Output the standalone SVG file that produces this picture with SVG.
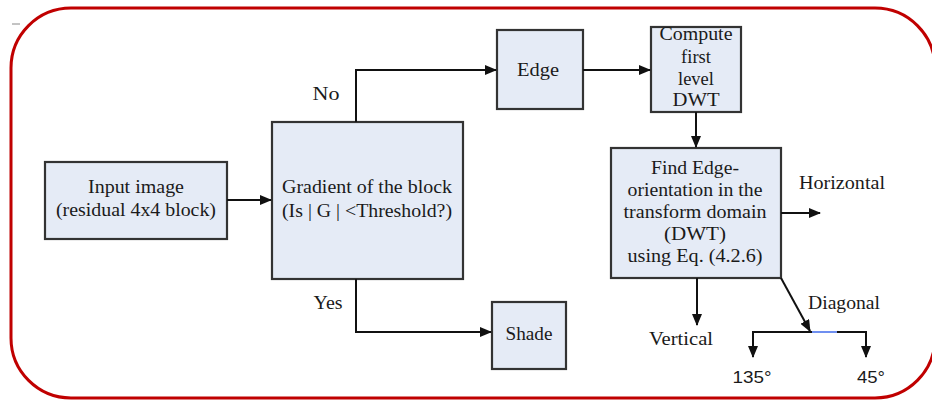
<svg xmlns="http://www.w3.org/2000/svg" width="932" height="400" viewBox="0 0 932 400">
<defs>
<marker id="ah" markerUnits="userSpaceOnUse" markerWidth="12" markerHeight="10" refX="11" refY="5" orient="auto"><path d="M0,0 L12,5 L0,10 z" fill="#111"/></marker>
<style>
.box{fill:#e5ebf6;stroke:#333;stroke-width:2.2}
text{font-size:18.5px;fill:#1a1a1a;text-anchor:middle}
.c{fill:none;stroke:#111;stroke-width:2}
</style>
</defs>
<rect x="11" y="8" width="924" height="390" rx="60" ry="60" fill="#fff" stroke="#c00000" stroke-width="3"/>
<line x1="12" y1="24" x2="20" y2="24" stroke="#888" stroke-width="1"/>
<g font-family="Liberation Serif, Times New Roman, serif">
<g id="input"><rect class="box" x="45" y="162" width="182" height="77"/>
<text x="136" y="193" textLength="96" lengthAdjust="spacingAndGlyphs">Input image</text>
<text x="136" y="216" textLength="160" lengthAdjust="spacingAndGlyphs">(residual 4x4 block)</text></g>
<g id="gradient"><rect class="box" x="272" y="122" width="191" height="157"/>
<text x="367" y="193" textLength="170" lengthAdjust="spacingAndGlyphs">Gradient of the block</text>
<text x="367" y="217" textLength="170" lengthAdjust="spacingAndGlyphs">(Is | G | &lt;Threshold?)</text></g>
<g id="edge"><rect class="box" x="497" y="30" width="86" height="79"/>
<text x="538" y="76" textLength="42" lengthAdjust="spacingAndGlyphs">Edge</text></g>
<g id="dwt"><rect class="box" x="651" y="27" width="90" height="85"/>
<text x="696" y="40" textLength="73" lengthAdjust="spacingAndGlyphs">Compute</text>
<text x="696" y="63">first</text>
<text x="696" y="85">level</text>
<text x="696" y="106" textLength="47" lengthAdjust="spacingAndGlyphs">DWT</text></g>
<g id="shade"><rect class="box" x="492" y="302" width="74" height="67"/>
<text x="529" y="340" textLength="47" lengthAdjust="spacingAndGlyphs">Shade</text></g>
<g id="find"><rect class="box" x="611" y="148" width="170" height="130"/>
<text x="695" y="174" textLength="88" lengthAdjust="spacingAndGlyphs">Find Edge-</text>
<text x="695" y="196" textLength="135" lengthAdjust="spacingAndGlyphs">orientation in the</text>
<text x="695" y="218" textLength="143" lengthAdjust="spacingAndGlyphs">transform domain</text>
<text x="695" y="240" textLength="62" lengthAdjust="spacingAndGlyphs">(DWT)</text>
<text x="695" y="262" textLength="135" lengthAdjust="spacingAndGlyphs">using Eq. (4.2.6)</text></g>
</g>
<g id="connectors">
<path class="c" d="M227,200 H271" marker-end="url(#ah)"/>
<path class="c" d="M356,122 V70 H496" marker-end="url(#ah)"/>
<path class="c" d="M356,279 V332 H491" marker-end="url(#ah)"/>
<path class="c" d="M583,70 H650" marker-end="url(#ah)"/>
<path class="c" d="M696,112 V147" marker-end="url(#ah)"/>
<path class="c" d="M781,213 H820" marker-end="url(#ah)"/>
<path class="c" d="M697,278 V325" marker-end="url(#ah)"/>
<path class="c" d="M781,278 L810,331" marker-end="url(#ah)"/>
<path class="c" d="M812,332 H753 V357" marker-end="url(#ah)"/>
<path class="c" d="M837,332 H866 V357" marker-end="url(#ah)"/>
<line x1="812" y1="332" x2="837" y2="332" stroke="#6f8ff0" stroke-width="2"/>
</g>
<g id="labels">
<g font-family="Liberation Serif, Times New Roman, serif">
<text x="326" y="100" textLength="27" lengthAdjust="spacingAndGlyphs">No</text>
<text x="328" y="309" textLength="29" lengthAdjust="spacingAndGlyphs">Yes</text>
<text x="842" y="189" textLength="86" lengthAdjust="spacingAndGlyphs">Horizontal</text>
<text x="681" y="345" textLength="64" lengthAdjust="spacingAndGlyphs">Vertical</text>
<text x="844" y="309" textLength="72" lengthAdjust="spacingAndGlyphs">Diagonal</text>
</g>
<g font-family="Liberation Sans, Arial, sans-serif">
<text x="752" y="383" textLength="39" lengthAdjust="spacingAndGlyphs" style="font-size:16px">135°</text>
<text x="871" y="383" textLength="28" lengthAdjust="spacingAndGlyphs" style="font-size:16px">45°</text>
</g>
</g>
</svg>
